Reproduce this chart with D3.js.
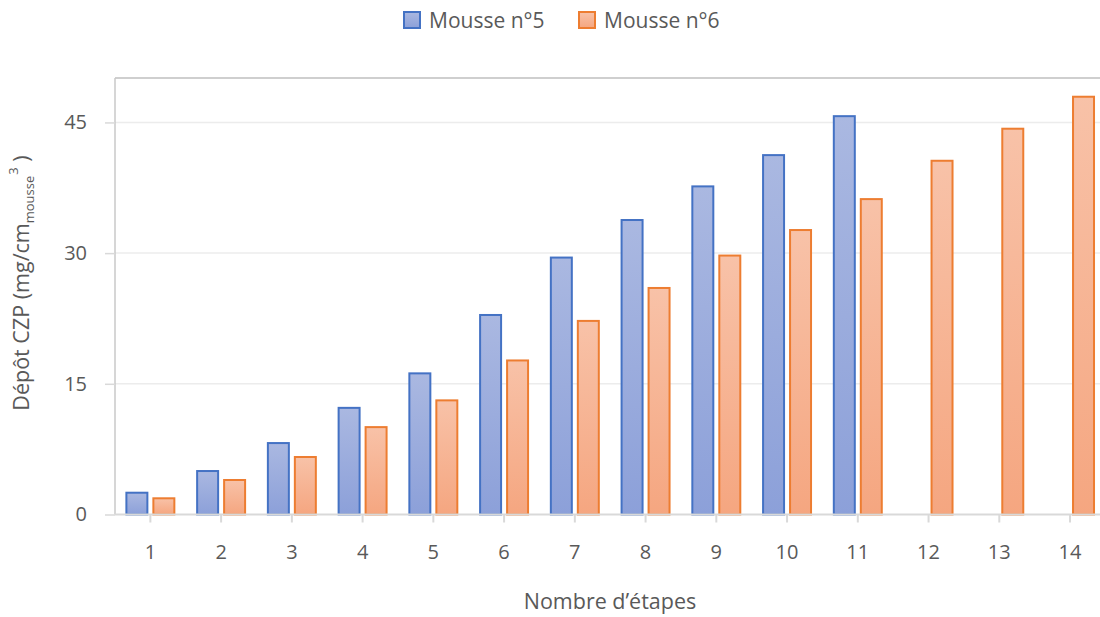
<!DOCTYPE html>
<html>
<head>
<meta charset="utf-8">
<script src="https://cdn.jsdelivr.net/npm/d3@7"></script>
<style>
  body { margin: 0; background: #fff; }
  text { font-family: "Open Sans", "Noto Sans", sans-serif; fill: #595959; }
</style>
</head>
<body>
<div id="chart"></div>
<script>
// data
var etapes = ["1","2","3","4","5","6","7","8","9","10","11","12","13","14"];
var mousse5 = [2.5, 4.99, 8.2, 12.24, 16.2, 22.9, 29.49, 33.8, 37.66, 41.25, 45.72];
var mousse6 = [1.86, 3.96, 6.6, 10.03, 13.1, 17.68, 22.22, 26.0, 29.72, 32.65, 36.2, 40.6, 44.28, 47.95];
var seriesNames = ["Mousse n°5", "Mousse n°6"];
var yTicks = [0, 15, 30, 45];

function draw(){
    var W = 1100, H = 617;
    var pLeft = 115, pRight = 1105.4, pTop = 78, pBottom = 514.5;

    var svg = d3.select("#chart").append("svg").attr("width", W).attr("height", H);

    var defs = svg.append("defs");
    function grad(id, c1, c2){
        var g = defs.append("linearGradient").attr("id", id).attr("x1",0).attr("y1",0).attr("x2",0).attr("y2",1);
        g.append("stop").attr("offset","0%").attr("stop-color",c1);
        g.append("stop").attr("offset","100%").attr("stop-color",c2);
    }
    grad("gBlue", "#aab8e1", "#8ca0d9");
    grad("gOrange", "#f8c2a8", "#f5a680");

    var styles = [
        {fill:"url(#gBlue)", stroke:"#4472c4"},
        {fill:"url(#gOrange)", stroke:"#ed7d31"}
    ];

    var x0 = d3.scaleBand().domain(etapes).range([pLeft, pRight]).padding(0);
    var x1 = d3.scaleBand().domain([0,1]).range([0, x0.bandwidth()]).paddingInner(0.148).paddingOuter(0.385);
    var y = d3.scaleLinear().domain([0, 50.1]).range([pBottom, pTop]);

    // gridlines
    svg.append("g").selectAll("line").data(yTicks.filter(function(d){return d>0;})).enter().append("line")
        .attr("x1", pLeft).attr("x2", W).attr("y1", function(d){return y(d);}).attr("y2", function(d){return y(d);})
        .attr("stroke", "#ececec").attr("stroke-width", 1.5);

    // plot border (top + left)
    svg.append("line").attr("x1", pLeft).attr("x2", W).attr("y1", pTop).attr("y2", pTop)
        .attr("stroke", "#bfbfbf").attr("stroke-width", 1.5);
    svg.append("line").attr("x1", pLeft).attr("x2", pLeft).attr("y1", pTop).attr("y2", pBottom)
        .attr("stroke", "#c8c8c8").attr("stroke-width", 1.5);

    // y axis
    var yAxis = svg.append("g").attr("transform", "translate(" + pLeft + ",0)")
        .call(d3.axisLeft(y).tickValues(yTicks).tickSize(10).tickPadding(18));
    yAxis.select(".domain").remove();
    yAxis.selectAll(".tick line").attr("stroke", "#d9d9d9").attr("stroke-width", 1.5);
    yAxis.selectAll(".tick text").style("font-size", "20px").attr("fill", "#595959");

    // bars
    var rows = [mousse5, mousse6];
    rows.forEach(function(vals, s){
        svg.append("g").selectAll("rect").data(vals).enter().append("rect")
            .attr("x", function(d, i){ return x0(etapes[i]) + x1(s) + 1; })
            .attr("width", x1.bandwidth() - 2)
            .attr("y", function(d){ return y(d); })
            .attr("height", function(d){ return pBottom - y(d); })
            .attr("fill", styles[s].fill)
            .attr("stroke", styles[s].stroke)
            .attr("stroke-width", 2);
    });

    // x axis
    var xAxis = svg.append("g").attr("transform", "translate(0," + pBottom + ")")
        .call(d3.axisBottom(x0).tickSize(8).tickPadding(22));
    xAxis.select(".domain").attr("d", "M" + pLeft + ",0H" + W).attr("stroke", "#d9d9d9").attr("stroke-width", 2);
    xAxis.selectAll(".tick line").attr("stroke", "#d9d9d9").attr("stroke-width", 2);
    xAxis.selectAll(".tick text").style("font-size", "20px").attr("fill", "#595959");

    // axis titles
    svg.append("text").attr("x", 610).attr("y", 609).attr("text-anchor", "middle")
        .style("font-size", "21.5px").text("Nombre d’étapes");

    var yt = svg.append("text").attr("transform", "translate(29,283) rotate(-90)")
        .attr("text-anchor", "middle").style("font-size", "21.5px");
    yt.append("tspan").text("Dépôt CZP (mg/cm");
    yt.append("tspan").attr("dy", 5).style("font-size", "13px").text("mousse");
    yt.append("tspan").attr("dy", -16).attr("dx", 1).style("font-size", "13px").text("3");
    yt.append("tspan").attr("dy", 11).text(" )");

    // legend
    var legend = svg.append("g");
    var lx = [403, 578];
    seriesNames.forEach(function(n, i){
        legend.append("rect").attr("x", lx[i] + 1).attr("y", 12).attr("width", 16).attr("height", 16)
            .attr("fill", styles[i].fill).attr("stroke", styles[i].stroke).attr("stroke-width", 2);
        legend.append("text").attr("x", lx[i] + 26).attr("y", 28).style("font-size", "21px").text(n);
    });
}
draw();
</script>
</body>
</html>
